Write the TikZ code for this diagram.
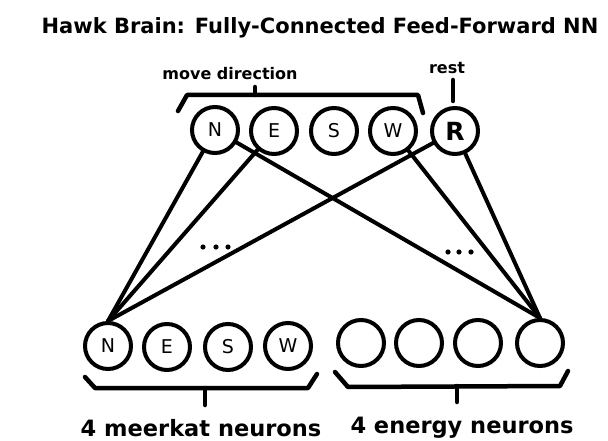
\documentclass[tikz,border=0pt]{standalone}
\usepackage{fontspec}
\setmainfont{DejaVu Sans}
\begin{document}
\begin{tikzpicture}[x=1pt,y=-1pt,line width=4pt,
	neuron/.style={draw,circle,minimum size=46pt,inner sep=0pt,
	font=\fontsize{19}{19}\selectfont},
	bracket/.style={line cap=round,line join=round,line width=4.5pt},
	heading/.style={font=\bfseries\fontsize{16}{16}\selectfont},
	caption/.style={inner sep=0pt,font=\bfseries\fontsize{22.5}{22.5}\selectfont}]
	\useasboundingbox (0,0) rectangle (608,441);
	\node[font=\bfseries\fontsize{21}{21}\selectfont] (title) at (320,28)
	    {Hawk Brain: Fully-Connected Feed-Forward NN};
	\node[neuron] (oN) at (215,130) {N};
	\node[neuron] (oE) at (274,131) {E};
	\node[neuron] (oS) at (334,131) {S};
	\node[neuron] (oW) at (393,131) {W};
	\node[neuron,font=\bfseries\fontsize{25}{25}\selectfont] (oR) at (455,131) {R};
	\node[neuron] (mN) at (108,346) {N};
	\node[neuron] (mE) at (167,347) {E};
	\node[neuron] (mS) at (228,347) {S};
	\node[neuron] (mW) at (288,346) {W};
	\node[neuron] (e1) at (361,343) {};
	\node[neuron] (e2) at (419,343) {};
	\node[neuron] (e3) at (478,343) {};
	\node[neuron] (e4) at (540,343) {};
	\foreach \t in {oN,oE,oR}
	    \draw[line cap=round] (mN.north) -- (\t);
	\foreach \t in {oN,oW,oR}
	    \draw[line cap=round] (e4.north) -- (\t);
	\foreach \x in {203,216,228}
	    \fill (\x,247) circle (2.6pt);
	\foreach \x in {448,459,471}
	    \fill (\x,252) circle (2.6pt);
	\node[heading] (move) at (230,74) {move direction};
	\node[heading] (rest) at (447,68) {rest};
	\draw[bracket] (178,111) -- (187,95) -- (418,95) -- (423,113);
	\draw[bracket] (255,87) -- (255,95);
	\draw[bracket] (453,80) -- (453,101);
	\draw[bracket] (85,377) -- (95,388) -- (308,388) -- (317,374);
	\draw[bracket] (205,388) -- (205,405);
	\draw[bracket] (335,372) -- (348,387) -- (560,386) -- (568,371);
	\draw[bracket] (457,386) -- (457,402);
	\node[caption] (meerkat) at (201,428) {4 meerkat neurons};
	\node[caption] (energy) at (462,428) {4 energy neurons};
\end{tikzpicture}
\end{document}
